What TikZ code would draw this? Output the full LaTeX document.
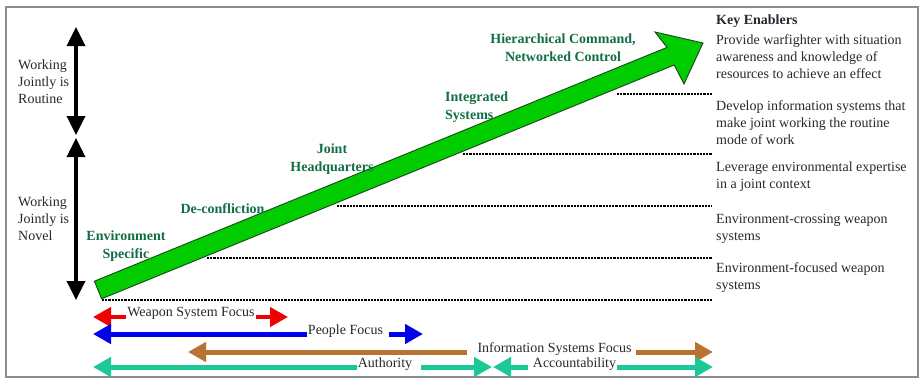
\documentclass[tikz,border=0pt]{standalone}
\usepackage{fontspec}
\setmainfont{Liberation Serif}
\usetikzlibrary{arrows.meta}
\definecolor{txtgray}{RGB}{40,40,50}
\definecolor{grntxt}{RGB}{18,110,68}
\definecolor{arrgreen}{RGB}{0,204,0}
\definecolor{arredge}{RGB}{25,70,25}
\definecolor{brownarr}{RGB}{184,115,51}
\definecolor{tealarr}{RGB}{28,200,150}
\definecolor{redarr}{RGB}{240,0,0}
\definecolor{bluearr}{RGB}{0,0,235}
\definecolor{framegray}{RGB}{140,140,140}
\begin{document}
\begin{tikzpicture}[x=1pt,y=-1pt,
  lbl/.style={font=\fontsize{14}{17}\selectfont, text=txtgray, inner sep=0pt, align=left, anchor=north west},
  grn/.style={font=\fontsize{14}{17.5}\selectfont\bfseries, text=grntxt, inner sep=0pt, align=center, anchor=north},
  bot/.style={font=\fontsize{14}{17}\selectfont, text=txtgray, inner sep=1pt, anchor=mid},
  blackarr/.style={line width=3.5pt, {Triangle[width=18pt,length=19pt]}-{Triangle[width=18pt,length=19pt]}},
  dots/.style={line width=2.6pt, dash pattern=on 2.2pt off 1pt, black},
  barr/.style={-{Triangle[width=#1,length=18pt]}},
]
\useasboundingbox (0,0) rectangle (921,381);
\fill[white] (0,0) rectangle (921,381);
\draw[framegray, line width=1.5pt] (6,7) rectangle (918,377);

% left vertical arrows
\coordinate (r1) at (76,27);
\coordinate (r2) at (76,135);
\coordinate (n1) at (76,138);
\coordinate (n2) at (76,300);
\draw[blackarr] (r1) -- (r2);
\draw[blackarr] (n1) -- (n2);
\node[lbl] (routine) at (18,59.6) {Working\\Jointly is\\Routine};
\node[lbl] (novel) at (18,196.1) {Working\\Jointly is\\Novel};

% dotted levels
\coordinate (d0a) at (102,300); \coordinate (d0b) at (712,300);
\coordinate (d1a) at (207,258); \coordinate (d1b) at (712,258);
\coordinate (d2a) at (337,206); \coordinate (d2b) at (712,206);
\coordinate (d3a) at (463,154); \coordinate (d3b) at (712,154);
\coordinate (d4a) at (617,94);  \coordinate (d4b) at (712,94);
\foreach \i in {0,...,4} { \draw[dots] (d\i a) -- (d\i b); }

% big green arrow
\filldraw[fill=arrgreen, draw=arredge, line width=0.9pt, line join=miter]
  (94.4,281.2) -- (101.6,298.8) -- (674.2,65.0) -- (684.0,84.0) -- (703,43)
  -- (655.0,32.0) -- (667.0,47.4) -- cycle;

% green stage labels
\node[grn] (envspec) at (126,230.6) {Environment\\Specific};
\node[grn] (deconf) at (222.5,203.6) {De-confliction};
\node[grn] (jointhq) at (332,143.6) {Joint\\Headquarters};
\node[grn, anchor=north west, align=left] (integ) at (445,91.9) {Integrated\\Systems};
\node[grn] (hier) at (563,33.6) {Hierarchical Command,\\Networked Control};

% key enablers
\node[lbl, font=\fontsize{14}{17}\selectfont\bfseries] (key) at (716,14.6) {Key Enablers};
\node[lbl] (e4) at (716,34.6) {Provide warfighter with situation\\awareness and knowledge of\\resources to achieve an effect};
\node[lbl] (e3) at (716,100.9) {Develop information systems that\\make joint working the routine\\mode of work};
\node[lbl] (e2) at (716,161.9) {Leverage environmental expertise\\in a joint context};
\node[lbl] (e1) at (716,213.6) {Environment-crossing weapon\\systems};
\node[lbl] (e0) at (716,262.9) {Environment-focused weapon\\systems};

% bottom focus arrows
\node[bot] (wsf) at (191,314) {Weapon System Focus};
\coordinate (wsfL) at (93,317); \coordinate (wsfR) at (288,317);
\draw[redarr, line width=4pt, barr=19pt] (wsf.west |- wsfL) -- (wsfL);
\draw[redarr, line width=4pt, barr=19pt] (wsf.east |- wsfR) -- (wsfR);

\node[bot] (pf) at (345.5,332) {People Focus};
\coordinate (pfL) at (93,334); \coordinate (pfR) at (423,334);
\draw[bluearr, line width=5pt, barr=19pt] (pf.west |- pfL) -- (pfL);
\draw[bluearr, line width=5pt, barr=19pt, shorten <=5pt] (pf.east |- pfR) -- (pfR);

\node[bot] (isf) at (554.5,350) {Information Systems Focus};
\coordinate (isfL) at (188,352); \coordinate (isfR) at (713,352);
\draw[brownarr, line width=5pt, barr=19pt, shorten <=9pt] (isf.west |- isfL) -- (isfL);
\draw[brownarr, line width=5pt, barr=19pt, shorten <=3pt] (isf.east |- isfR) -- (isfR);

\node[bot] (auth) at (385,365) {Authority};
\coordinate (authL) at (93,367); \coordinate (authR) at (492,367);
\draw[tealarr, line width=5pt, barr=19pt] (auth.west |- authL) -- (authL);
\draw[tealarr, line width=5pt, barr=19pt, shorten <=8pt] (auth.east |- authR) -- (authR);

\node[bot] (acc) at (574.5,365) {Accountability};
\coordinate (accL) at (493,367); \coordinate (accR) at (713,367);
\draw[tealarr, line width=5pt, barr=19pt, shorten <=4pt] (acc.west |- accL) -- (accL);
\draw[tealarr, line width=5pt, barr=19pt] (acc.east |- accR) -- (accR);
\end{tikzpicture}
\end{document}
